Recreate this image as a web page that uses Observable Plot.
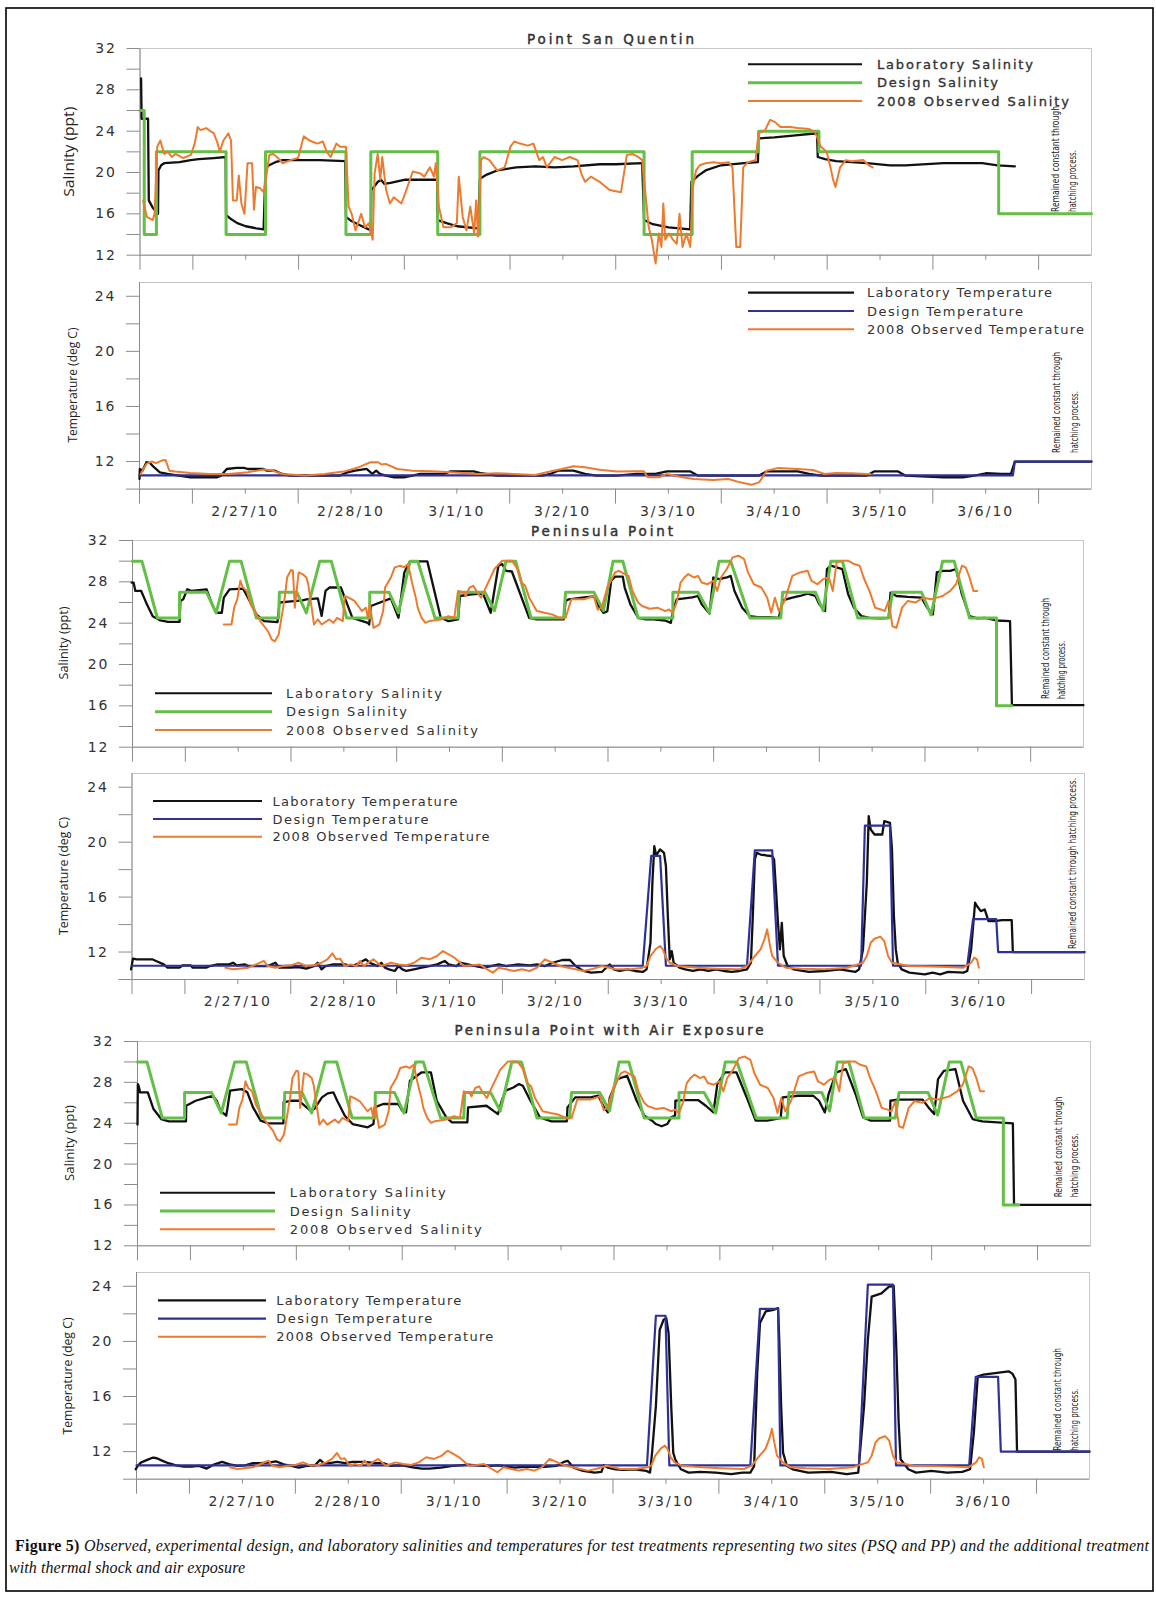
<!DOCTYPE html>
<html><head><meta charset="utf-8">
<script src="https://cdn.jsdelivr.net/npm/d3@7"></script>
<script src="https://cdn.jsdelivr.net/npm/@observablehq/plot@0.6"></script>
<style>
html,body{margin:0;padding:0;background:#fff;}
#page{position:relative;width:1156px;height:1598px;overflow:hidden;background:#fff;}
#page svg{position:absolute;left:0;overflow:visible;}
</style></head><body><div id="page"></div>
<script>
// ---------- axis labels ----------
const dateLabels = ["2/27/10","2/28/10","3/1/10","3/2/10","3/3/10","3/4/10","3/5/10","3/6/10"];
const dayTicks = [-0.5,0,1,2,3,4,5,6,7,8];
const midDayTicks = [0.5,1.5,2.5,3.5,4.5,5.5,6.5,7.5];
const salTicks = [12,16,20,24,28,32];
const salMinor = [14,18,22,26,30];
const tempTicks = [12,16,20,24];
const tempMinor = [10,14,18,22];

// ---------- Point San Quentin : salinity (day since 2/27/10 0:00, ppt) ----------
const psqSalLab = [[-0.49,29.1],[-0.485,25.2],[-0.424,25.2],[-0.417,17.3],[-0.38,16.6],[-0.33,16.0],[-0.326,20.2],[-0.30,20.7],[-0.272,20.9],[-0.127,21.0],[-0.02,21.2],[0.054,21.3],[0.198,21.4],[0.31,21.5],[0.314,15.9],[0.36,15.5],[0.42,15.1],[0.5,14.8],[0.6,14.6],[0.669,14.5],[0.687,20.4],[0.72,20.7],[0.78,21.0],[0.85,21.2],[1.031,21.2],[1.2,21.2],[1.44,21.1],[1.448,15.7],[1.5,15.3],[1.58,14.9],[1.683,14.4],[1.688,18.3],[1.72,18.7],[1.75,19.1],[1.78,19.3],[1.81,18.9],[1.87,19.0],[2.009,19.3],[2.15,19.3],[2.31,19.3],[2.316,15.4],[2.4,15.1],[2.5,14.8],[2.697,14.6],[2.715,19.4],[2.78,19.8],[2.878,20.2],[3.059,20.5],[3.24,20.6],[3.421,20.5],[3.602,20.6],[3.848,20.8],[4.0,20.8],[4.25,20.9],[4.268,15.4],[4.35,15.0],[4.5,14.7],[4.704,14.5],[4.715,19.1],[4.78,19.7],[4.85,20.2],[4.995,20.7],[5.213,20.9],[5.345,21.0],[5.351,23.3],[5.5,23.4],[5.7,23.6],[5.904,23.8],[5.911,21.5],[5.98,21.3],[6.085,21.1],[6.376,20.9],[6.594,20.7],[6.739,20.7],[7.103,20.9],[7.284,20.9],[7.466,20.9],[7.612,20.7],[7.775,20.6]];
const psqSalDesign = [[-0.5,26],[-0.46,26],[-0.46,14],[-0.345,14],[-0.345,22],[0.314,22],[0.314,14],[0.687,14],[0.687,22],[1.448,22],[1.448,14],[1.683,14],[1.683,22],[2.316,22],[2.316,14],[2.715,14],[2.715,22],[4.268,22],[4.268,14],[4.723,14],[4.723,22],[5.351,22],[5.351,24],[5.922,24],[5.922,22],[7.622,22],[7.622,16],[8.5,16]];
const psqSalObs = [[-0.47,17.3],[-0.435,15.7],[-0.38,15.4],[-0.362,16.0],[-0.337,22.5],[-0.308,23.1],[-0.272,21.8],[-0.236,22.0],[-0.2,21.5],[-0.164,21.8],[-0.091,21.4],[-0.019,21.7],[0.017,22.8],[0.046,24.4],[0.072,24.1],[0.126,24.3],[0.18,23.9],[0.198,23.8],[0.235,22.8],[0.253,22.0],[0.289,23.1],[0.336,23.8],[0.361,23.1],[0.379,17.3],[0.415,17.3],[0.434,19.7],[0.459,17.0],[0.488,16.0],[0.517,20.9],[0.56,20.9],[0.578,16.4],[0.596,18.6],[0.633,18.5],[0.669,18.1],[0.687,19.1],[0.723,21.7],[0.759,21.8],[0.796,21.5],[0.85,20.9],[0.922,21.2],[0.995,21.4],[1.049,23.5],[1.103,23.1],[1.176,22.8],[1.23,23.0],[1.266,22.0],[1.303,21.5],[1.357,22.8],[1.393,22.5],[1.448,22.5],[1.473,16.7],[1.502,16.0],[1.538,14.4],[1.592,16.0],[1.628,14.7],[1.665,15.1],[1.701,13.5],[1.719,19.9],[1.748,21.8],[1.773,19.3],[1.791,21.5],[1.828,18.3],[1.864,17.0],[1.9,17.6],[1.972,17.0],[2.009,18.0],[2.08,20.1],[2.153,19.9],[2.189,19.6],[2.243,20.5],[2.28,19.6],[2.298,20.9],[2.327,16.7],[2.37,14.7],[2.443,14.7],[2.497,15.1],[2.515,19.6],[2.552,15.7],[2.588,14.4],[2.624,16.7],[2.661,14.1],[2.679,17.3],[2.697,13.8],[2.726,21.2],[2.751,21.5],[2.805,21.2],[2.878,20.2],[2.95,20.5],[3.004,22.5],[3.04,23.0],[3.095,22.8],[3.167,22.6],[3.221,22.8],[3.276,21.2],[3.312,21.5],[3.348,20.5],[3.421,21.5],[3.493,21.2],[3.565,21.5],[3.638,21.2],[3.674,19.9],[3.71,19.1],[3.765,19.6],[3.848,19.1],[3.941,18.3],[4.05,18.1],[4.105,21.7],[4.159,21.8],[4.214,21.5],[4.25,21.2],[4.287,17.3],[4.312,14.7],[4.341,13.5],[4.377,11.2],[4.407,14.1],[4.432,12.8],[4.45,17.0],[4.468,13.5],[4.505,14.1],[4.541,13.5],[4.577,13.1],[4.603,16.0],[4.632,12.8],[4.668,14.1],[4.705,12.8],[4.73,18.6],[4.759,20.2],[4.795,20.7],[4.85,20.9],[4.923,21.0],[4.995,20.9],[5.068,21.0],[5.104,20.5],[5.14,12.8],[5.177,12.8],[5.206,20.5],[5.25,21.0],[5.322,21.2],[5.351,23.8],[5.413,24.1],[5.46,25.1],[5.504,24.9],[5.558,24.4],[5.649,24.4],[5.722,24.3],[5.831,24.2],[5.885,23.9],[5.94,22.5],[5.995,22.0],[6.031,20.5],[6.056,19.3],[6.078,18.6],[6.122,20.5],[6.176,21.2],[6.231,21.1],[6.34,21.2],[6.394,20.7],[6.43,20.5]];

// ---------- Point San Quentin : temperature (deg C) ----------
const psqTempLab = [[-0.5,10.73],[-0.497,11.46],[-0.471,11.34],[-0.435,11.95],[-0.399,11.88],[-0.363,11.59],[-0.308,11.22],[-0.236,11.1],[-0.127,10.98],[-0.019,10.86],[0.235,10.86],[0.271,10.98],[0.325,11.46],[0.416,11.54],[0.488,11.54],[0.524,11.46],[0.669,11.46],[0.705,11.34],[0.777,11.34],[0.85,11.1],[0.922,10.98],[1.393,10.98],[1.466,11.22],[1.538,11.34],[1.647,11.46],[1.701,11.1],[1.737,11.34],[1.773,11.1],[1.828,10.98],[1.9,10.86],[2.009,10.86],[2.081,10.98],[2.153,11.1],[2.371,11.1],[2.443,11.29],[2.66,11.29],[2.733,11.15],[2.878,10.98],[3.312,10.98],[3.384,11.1],[3.457,11.34],[3.602,11.34],[3.711,11.1],[3.819,10.98],[4.014,10.98],[4.196,11.1],[4.377,11.1],[4.486,11.29],[4.704,11.29],[4.777,10.98],[5.358,10.98],[5.431,11.29],[5.722,11.29],[5.831,11.1],[5.94,10.98],[6.376,10.98],[6.449,11.29],[6.667,11.29],[6.739,10.98],[7.103,10.86],[7.284,10.86],[7.393,10.98],[7.502,11.15],[7.648,11.1],[7.739,11.1],[7.775,12.0],[8.5,12.0]];
const psqTempDesign = [[-0.5,11],[7.757,11],[7.775,12],[8.5,12]];
const psqTempObs = [[-0.489,11.1],[-0.435,11.83],[-0.381,12.0],[-0.345,11.88],[-0.291,12.07],[-0.254,12.12],[-0.218,11.34],[-0.164,11.27],[-0.019,11.17],[0.162,11.1],[0.343,11.1],[0.524,11.22],[0.669,11.42],[0.741,11.39],[0.85,11.1],[1.067,10.98],[1.248,11.1],[1.429,11.27],[1.574,11.59],[1.683,11.95],[1.756,11.95],[1.792,11.78],[1.828,11.83],[1.937,11.46],[2.081,11.34],[2.262,11.29],[2.443,11.22],[2.697,11.1],[2.878,11.15],[3.24,11.03],[3.348,11.22],[3.493,11.46],[3.602,11.66],[3.711,11.59],[3.848,11.4],[4.014,11.27],[4.196,11.29],[4.268,11.29],[4.305,10.86],[4.414,10.86],[4.486,11.1],[4.632,10.86],[4.741,10.73],[4.922,10.66],[5.068,10.73],[5.177,10.49],[5.286,10.32],[5.358,10.49],[5.431,11.34],[5.54,11.54],[5.722,11.46],[5.867,11.39],[5.976,11.1],[6.085,11.17],[6.231,11.15],[6.376,11.1],[6.412,11.1]];

// ---------- Peninsula Point : salinity ----------
const ppSalDesign = [[-0.5,30],[-0.411,30],[-0.265,24.5],[-0.055,24.5],[-0.055,27],[0.2,27],[0.291,25],[0.418,30],[0.527,30],[0.672,24.5],[0.883,24.5],[0.89,27],[1.054,27],[1.145,25],[1.272,30],[1.381,30],[1.527,24.5],[1.745,24.5],[1.745,27],[1.927,27],[2.017,25],[2.127,30],[2.199,30],[2.363,24.5],[2.581,24.5],[2.59,27],[2.835,27],[2.926,25.2],[3.035,30],[3.126,30],[3.272,24.5],[3.58,24.5],[3.599,27],[3.866,27],[3.957,25.2],[4.048,30],[4.14,30],[4.285,24.5],[4.614,24.5],[4.614,27],[4.851,27],[4.96,25],[5.051,30],[5.161,30],[5.343,24.5],[5.635,24.5],[5.653,27],[5.963,27],[6.036,25.2],[6.109,30],[6.218,30],[6.364,24.5],[6.656,24.5],[6.692,27],[6.966,27],[7.057,24.8],[7.167,30],[7.276,30],[7.422,24.5],[7.677,24.5],[7.677,16],[7.823,16]];
const ppSalLab = [[-0.509,27.93],[-0.49,27.93],[-0.473,27.12],[-0.418,27.12],[-0.364,25.82],[-0.309,24.68],[-0.236,24.26],[-0.164,24.13],[-0.055,24.13],[-0.047,26.15],[-0.02,26.31],[0.018,27.28],[0.055,27.12],[0.2,27.28],[0.254,25.82],[0.291,25.01],[0.345,25.01],[0.364,26.47],[0.418,27.28],[0.545,27.35],[0.6,26.31],[0.672,24.85],[0.745,24.2],[0.872,24.1],[0.891,26.0],[1.0,26.1],[1.109,26.2],[1.145,26.3],[1.254,26.4],[1.29,24.7],[1.327,27.12],[1.363,27.45],[1.472,27.45],[1.581,24.52],[1.727,24.03],[1.74,23.87],[1.756,25.66],[1.945,26.4],[2.017,24.52],[2.072,28.9],[2.127,29.98],[2.29,29.98],[2.417,24.52],[2.49,24.2],[2.581,24.36],[2.599,26.63],[2.708,26.8],[2.817,26.86],[2.89,25.01],[2.963,29.56],[2.999,29.72],[3.035,29.07],[3.09,29.0],[3.254,24.52],[3.326,24.36],[3.581,24.36],[3.599,26.15],[3.629,26.31],[3.702,26.4],[3.775,26.5],[3.866,26.6],[3.902,25.8],[3.957,25.0],[3.994,25.17],[4.03,28.1],[4.067,28.5],[4.14,28.5],[4.158,27.45],[4.212,25.82],[4.285,24.52],[4.358,24.36],[4.431,24.36],[4.541,24.26],[4.595,24.03],[4.614,25.17],[4.65,26.31],[4.723,26.4],[4.796,26.5],[4.851,26.63],[4.887,25.82],[4.96,24.93],[4.997,28.42],[5.051,28.26],[5.124,28.42],[5.161,28.58],[5.197,27.12],[5.27,25.5],[5.343,24.68],[5.416,24.58],[5.525,24.58],[5.617,24.52],[5.653,26.2],[5.744,26.47],[5.817,26.63],[5.89,26.86],[5.963,26.63],[6.0,25.82],[6.054,25.17],[6.072,29.24],[6.109,29.56],[6.164,29.4],[6.218,29.24],[6.273,26.8],[6.328,25.5],[6.4,24.68],[6.474,24.52],[6.583,24.46],[6.656,24.52],[6.674,26.96],[6.729,26.63],[6.838,26.54],[6.966,26.47],[7.021,25.5],[7.075,24.85],[7.112,28.91],[7.167,29.07],[7.24,29.07],[7.294,29.24],[7.349,26.8],[7.422,24.68],[7.495,24.46],[7.568,24.52],[7.677,24.26],[7.805,24.2],[7.823,16.07],[8.5,16.07]];
const ppSalObs = [[0.364,23.87],[0.436,23.87],[0.462,25.5],[0.491,26.31],[0.52,28.1],[0.545,27.45],[0.582,27.12],[0.618,25.82],[0.654,25.17],[0.709,24.2],[0.782,23.22],[0.818,22.41],[0.847,22.24],[0.883,22.89],[0.92,25.17],[0.945,26.8],[0.963,28.42],[1.0,29.14],[1.018,29.07],[1.036,25.5],[1.072,28.91],[1.109,28.75],[1.145,28.42],[1.163,27.77],[1.2,25.17],[1.218,23.87],[1.254,24.36],[1.29,23.87],[1.363,24.36],[1.4,24.03],[1.436,24.52],[1.49,24.2],[1.509,26.63],[1.545,26.47],[1.6,26.15],[1.636,25.66],[1.672,25.17],[1.708,25.5],[1.727,24.52],[1.745,25.82],[1.781,23.54],[1.836,23.87],[1.872,25.17],[1.89,27.45],[1.945,28.42],[1.981,29.4],[2.036,29.56],[2.072,29.4],[2.108,29.72],[2.145,27.93],[2.181,26.47],[2.199,25.5],[2.236,24.52],[2.272,24.03],[2.308,24.2],[2.417,24.36],[2.49,24.68],[2.545,24.52],[2.581,27.12],[2.635,26.96],[2.654,26.63],[2.69,27.45],[2.726,27.61],[2.763,26.96],[2.799,26.47],[2.926,29.24],[2.999,30.05],[3.09,30.05],[3.144,29.24],[3.181,27.93],[3.217,27.61],[3.254,26.47],[3.326,25.17],[3.399,25.0],[3.471,24.85],[3.544,24.52],[3.599,24.52],[3.653,26.31],[3.702,26.31],[3.775,26.31],[3.866,26.63],[3.902,25.3],[3.939,25.5],[3.994,27.45],[4.067,28.91],[4.103,29.07],[4.158,28.75],[4.194,28.58],[4.231,27.12],[4.285,26.0],[4.322,25.66],[4.395,25.4],[4.468,25.5],[4.541,25.17],[4.577,25.33],[4.614,25.0],[4.65,26.0],[4.687,27.93],[4.723,28.42],[4.759,28.75],[4.814,28.42],[4.851,28.58],[4.887,27.93],[4.942,27.77],[4.997,28.1],[5.033,27.12],[5.069,28.42],[5.124,29.24],[5.179,30.37],[5.234,30.53],[5.288,30.2],[5.325,28.91],[5.38,27.77],[5.452,27.45],[5.507,26.47],[5.544,25.0],[5.58,26.47],[5.617,25.17],[5.671,26.15],[5.744,28.58],[5.817,28.91],[5.89,29.07],[5.926,28.1],[5.981,27.77],[6.036,28.26],[6.091,28.42],[6.127,27.12],[6.164,29.89],[6.218,30.05],[6.273,30.05],[6.328,29.72],[6.382,29.56],[6.419,28.42],[6.474,27.12],[6.528,25.5],[6.583,25.33],[6.619,25.17],[6.656,26.15],[6.692,23.7],[6.729,23.54],[6.783,25.5],[6.838,26.15],[6.911,26.0],[6.984,26.47],[7.057,26.31],[7.112,26.47],[7.167,26.63],[7.24,27.12],[7.294,27.77],[7.349,29.56],[7.385,29.4],[7.422,28.42],[7.458,27.12],[7.495,27.12]];

// ---------- Peninsula Point : temperature ----------
const ppTempDesign = [[-0.5,11],[4.326,11],[4.406,19],[4.49,19],[4.545,11],[5.311,11],[5.385,19.4],[5.549,19.4],[5.604,11],[6.389,11],[6.425,21.2],[6.662,21.2],[6.691,11],[7.392,11],[7.447,14.4],[7.666,14.4],[7.684,12],[8.5,12]];
const ppTempLab = [[-0.509,10.74],[-0.491,11.52],[-0.455,11.47],[-0.309,11.47],[-0.273,11.35],[-0.2,11.1],[-0.164,10.86],[-0.055,10.86],[-0.018,11.03],[0.055,11.03],[0.073,10.86],[0.2,10.86],[0.236,10.98],[0.309,11.1],[0.418,11.1],[0.455,11.22],[0.491,11.03],[0.564,11.1],[0.6,10.98],[0.782,10.98],[0.855,11.22],[0.891,10.86],[1.0,10.86],[1.073,10.91],[1.146,10.79],[1.219,10.98],[1.255,11.22],[1.291,10.74],[1.328,10.98],[1.4,11.1],[1.51,11.1],[1.582,10.98],[1.619,11.1],[1.71,11.47],[1.746,11.22],[1.782,11.1],[1.819,10.98],[1.855,11.22],[1.892,10.86],[1.928,10.74],[1.983,10.62],[2.019,10.98],[2.055,10.74],[2.092,10.62],[2.164,10.74],[2.237,10.86],[2.31,10.98],[2.383,11.1],[2.455,11.35],[2.492,11.1],[2.565,10.98],[2.601,11.22],[2.674,11.1],[2.746,10.98],[2.819,10.86],[2.892,10.98],[2.965,11.1],[3.037,10.98],[3.147,11.1],[3.256,11.03],[3.328,11.1],[3.401,10.98],[3.474,11.22],[3.565,11.42],[3.638,11.42],[3.692,10.98],[3.765,10.62],[3.838,10.5],[3.94,10.55],[3.997,10.98],[4.015,11.1],[4.052,10.74],[4.107,10.62],[4.18,10.74],[4.253,10.62],[4.326,10.55],[4.362,10.74],[4.399,12.68],[4.417,17.04],[4.435,19.71],[4.453,19.03],[4.49,19.47],[4.508,19.35],[4.527,19.22],[4.545,18.25],[4.563,14.62],[4.581,11.47],[4.6,12.07],[4.618,11.22],[4.636,11.1],[4.673,10.86],[4.727,10.74],[4.8,10.62],[4.873,10.74],[4.946,10.62],[5.019,10.74],[5.092,10.62],[5.165,10.55],[5.238,10.62],[5.311,10.74],[5.348,11.22],[5.366,14.62],[5.385,18.74],[5.403,19.22],[5.439,19.1],[5.494,19.03],[5.549,18.98],[5.567,18.74],[5.585,16.56],[5.604,14.13],[5.622,12.19],[5.64,14.13],[5.658,11.71],[5.695,10.98],[5.75,10.74],[5.896,10.55],[6.042,10.62],[6.188,10.74],[6.334,10.55],[6.37,10.74],[6.407,12.19],[6.443,17.04],[6.461,21.89],[6.48,20.92],[6.516,20.56],[6.589,20.56],[6.608,21.53],[6.662,21.41],[6.681,19.47],[6.699,14.62],[6.717,12.19],[6.735,11.22],[6.772,10.74],[6.845,10.5],[6.991,10.38],[7.064,10.5],[7.137,10.38],[7.21,10.55],[7.356,10.5],[7.392,10.62],[7.429,12.19],[7.466,15.59],[7.484,15.35],[7.52,14.98],[7.557,15.1],[7.593,14.25],[7.648,14.25],[7.721,14.33],[7.812,14.33],[7.823,12.0],[8.5,12.0]];
const ppTempObs = [[0.382,10.86],[0.455,10.74],[0.6,10.86],[0.673,11.1],[0.746,11.35],[0.782,10.98],[0.855,10.86],[0.928,10.98],[1.0,11.03],[1.073,11.22],[1.146,10.98],[1.219,11.03],[1.291,11.22],[1.346,11.47],[1.393,11.9],[1.43,11.47],[1.466,11.52],[1.51,10.98],[1.564,11.1],[1.619,10.98],[1.655,11.35],[1.692,10.98],[1.728,11.22],[1.782,11.47],[1.819,11.22],[1.855,10.98],[1.946,11.22],[2.019,11.1],[2.092,11.03],[2.164,11.22],[2.237,11.59],[2.31,11.47],[2.383,11.71],[2.437,12.07],[2.492,11.83],[2.546,11.59],[2.583,11.35],[2.637,10.98],[2.71,11.03],[2.783,11.1],[2.856,10.74],[2.91,10.5],[2.965,10.86],[3.037,10.74],[3.11,10.62],[3.183,10.74],[3.256,10.62],[3.328,10.86],[3.401,11.47],[3.474,11.22],[3.547,10.98],[3.619,10.86],[3.692,10.74],[3.765,10.62],[3.838,10.74],[3.94,10.98],[4.07,10.74],[4.216,10.74],[4.326,10.86],[4.362,10.98],[4.399,11.71],[4.453,12.24],[4.49,12.44],[4.516,12.19],[4.545,11.59],[4.581,11.22],[4.654,10.98],[4.837,10.86],[5.019,10.79],[5.238,10.74],[5.311,10.98],[5.385,11.71],[5.439,12.19],[5.476,12.92],[5.501,13.65],[5.523,12.68],[5.549,11.71],[5.604,11.22],[5.676,10.86],[5.823,10.79],[6.042,10.74],[6.261,10.86],[6.407,11.22],[6.443,11.71],[6.48,12.68],[6.516,12.97],[6.571,13.12],[6.608,12.8],[6.644,11.71],[6.681,11.22],[6.845,10.98],[7.137,10.93],[7.356,10.86],[7.429,11.22],[7.458,11.59],[7.484,11.47],[7.502,10.86]];

// ---------- Peninsula Point with Air Exposure ----------
const ppAirSalLab = [[-0.5,23.86],[-0.497,27.83],[-0.49,27.67],[-0.475,27.02],[-0.403,27.02],[-0.349,25.39],[-0.276,24.41],[-0.204,24.18],[-0.042,24.18],[-0.04,25.71],[0.049,26.2],[0.157,26.53],[0.211,26.69],[0.248,26.2],[0.284,25.22],[0.338,24.74],[0.35,25.5],[0.374,27.18],[0.482,27.34],[0.537,27.02],[0.591,25.55],[0.663,24.25],[0.735,23.99],[0.878,23.99],[0.88,26.04],[0.952,26.2],[1.025,26.2],[1.061,25.88],[1.133,25.22],[1.169,25.39],[1.242,26.53],[1.296,26.92],[1.35,27.02],[1.386,26.2],[1.458,24.74],[1.531,23.92],[1.675,23.6],[1.729,23.92],[1.74,25.55],[1.82,25.88],[1.964,25.88],[2.0,25.22],[2.036,25.06],[2.073,28.16],[2.181,28.97],[2.271,28.97],[2.326,26.2],[2.416,24.57],[2.47,24.08],[2.615,24.08],[2.622,25.55],[2.796,25.71],[2.868,25.16],[2.904,24.9],[2.94,26.2],[2.976,27.18],[3.049,27.5],[3.103,27.83],[3.139,27.67],[3.211,26.2],[3.301,24.57],[3.409,24.18],[3.554,24.18],[3.561,25.55],[3.634,26.53],[3.779,26.53],[3.852,26.69],[3.906,25.55],[3.942,25.06],[3.96,26.5],[4.033,28.32],[4.124,28.65],[4.214,26.2],[4.287,24.74],[4.359,24.25],[4.395,23.92],[4.45,23.7],[4.504,23.92],[4.54,24.57],[4.577,24.74],[4.58,26.2],[4.649,26.27],[4.794,26.27],[4.867,25.71],[4.939,25.06],[4.976,27.83],[5.048,28.97],[5.157,28.97],[5.266,26.2],[5.338,24.25],[5.447,24.25],[5.574,24.51],[5.592,26.53],[5.737,26.69],[5.882,26.69],[5.936,26.2],[5.991,25.06],[6.027,26.86],[6.1,28.97],[6.19,29.3],[6.281,26.86],[6.353,24.57],[6.426,24.25],[6.607,24.25],[6.61,26.2],[6.68,26.3],[6.915,26.3],[6.97,25.55],[7.024,24.9],[7.06,28.32],[7.115,29.13],[7.224,29.3],[7.296,26.2],[7.387,24.41],[7.477,24.18],[7.622,24.08],[7.767,23.99],[7.778,16.0],[8.5,16.0]];
const ppAirTempDesign = [[-0.5,11],[4.321,11],[4.405,21.86],[4.496,21.86],[4.532,11],[5.297,11],[5.388,22.36],[5.559,22.36],[5.581,11],[6.323,11],[6.407,24.12],[6.644,24.12],[6.673,11],[7.364,11],[7.426,17.42],[7.637,17.42],[7.663,12],[8.5,12]];
const ppAirTempLab = [[-0.508,10.72],[-0.489,10.96],[-0.46,11.2],[-0.399,11.4],[-0.344,11.57],[-0.308,11.52],[-0.254,11.33],[-0.199,11.16],[-0.127,11.01],[-0.054,10.92],[0.018,10.92],[0.091,10.96],[0.163,10.77],[0.236,11.08],[0.308,11.25],[0.381,11.08],[0.454,10.96],[0.526,11.01],[0.599,11.16],[0.671,11.16],[0.744,11.2],[0.816,11.3],[0.889,11.08],[0.961,10.96],[1.034,10.84],[1.106,10.96],[1.179,10.96],[1.233,11.4],[1.269,11.16],[1.324,11.16],[1.396,11.25],[1.469,11.16],[1.541,11.25],[1.65,11.25],[1.759,11.16],[1.832,11.16],[1.904,10.96],[2.013,11.01],[2.122,10.84],[2.194,10.77],[2.267,10.77],[2.376,10.84],[2.484,10.96],[2.557,11.01],[2.629,11.06],[2.774,10.96],[2.847,10.96],[2.919,11.01],[3.065,10.84],[3.21,10.92],[3.355,10.89],[3.464,10.96],[3.536,11.25],[3.572,11.33],[3.627,10.84],[3.717,10.6],[3.826,10.48],[3.891,10.53],[3.913,11.01],[3.95,10.84],[4.023,10.72],[4.095,10.67],[4.205,10.72],[4.314,10.6],[4.35,10.48],[4.369,11.93],[4.405,15.3],[4.441,20.84],[4.478,21.57],[4.503,21.69],[4.525,20.6],[4.55,15.3],[4.569,11.93],[4.587,11.45],[4.641,10.72],[4.714,10.48],[4.824,10.53],[4.969,10.48],[5.115,10.36],[5.224,10.48],[5.297,10.48],[5.333,10.96],[5.362,17.71],[5.388,21.33],[5.442,22.17],[5.515,22.29],[5.559,22.41],[5.57,20.12],[5.588,15.3],[5.606,11.93],[5.643,10.96],[5.697,10.72],[5.843,10.48],[6.061,10.53],[6.207,10.36],[6.316,10.48],[6.371,15.3],[6.407,20.12],[6.443,23.25],[6.535,23.49],[6.607,23.98],[6.651,24.02],[6.673,20.12],[6.698,14.1],[6.716,11.45],[6.789,10.72],[6.862,10.48],[7.008,10.6],[7.153,10.48],[7.299,10.53],[7.372,10.72],[7.408,13.37],[7.445,17.47],[7.499,17.59],[7.627,17.71],[7.736,17.83],[7.772,17.66],[7.801,17.23],[7.816,12.0],[8.5,12.0]];

// ---------- text ----------
const titles = ["Point San Quentin","Peninsula Point","Peninsula Point with Air Exposure"];
const salLegend = ["Laboratory Salinity","Design Salinity","2008 Observed Salinity"];
const tempLegend = ["Laboratory Temperature","Design Temperature","2008 Observed Temperature"];
const noteLines = ["Remained constant through","hatching process."];
const noteOneLine = "Remained constant through hatching process.";
const captionBold = "Figure 5)";
const captionRest = " Observed, experimental design, and laboratory salinities and temperatures for test treatments representing two sites (PSQ and PP) and the additional treatment";
const captionLine2 = "with thermal shock and air exposure";

// ---------- styles ----------
const C = {lab:"#111111", dsal:"#63bf45", obs:"#ec7b30", dtemp:"#2e3196", axis:"#8c8c8c", frame:"#c6c6c6", text:"#333333"};
const W = {lab:2.3, dsal:3, obs:2, dtemp:2.2};

const page = document.getElementById("page");

function panel(p) {
  const svgTop = p.top - 14;
  const svgBottom = p.bottom + (p.labels ? 36 : 20);
  const plot = Plot.plot({
    width: 1156,
    height: svgBottom - svgTop,
    marginTop: p.top - svgTop,
    marginBottom: svgBottom - p.bottom,
    marginLeft: p.left,
    marginRight: 1156 - p.right,
    x: {domain: [-0.5, 8.5]},
    y: {domain: p.y},
    style: {fontFamily: "DejaVu Sans, Verdana, sans-serif", fontSize: "14px", letterSpacing: "2px", color: C.text, background: "transparent", overflow: "visible"},
    marks: [
      Plot.frame({stroke: C.frame}),
      Plot.axisY(p.major, {tickSize: 13, tickPadding: 10, stroke: C.axis, fill: C.text, label: null}),
      Plot.axisY(p.minor, {tickSize: 13, tickFormat: () => "", stroke: C.axis, label: null}),
      Plot.axisX(dayTicks, {tickSize: 15, tickFormat: () => "", stroke: C.axis, label: null}),
      Plot.axisX(midDayTicks, {tickSize: 5, tickPadding: 12, tickFormat: d => p.labels ? dateLabels[Math.floor(d)] : "", stroke: C.axis, fill: C.text, label: null}),
      Plot.ruleX([-0.5], {stroke: C.axis}),
      Plot.ruleY([p.y[0]], {stroke: C.axis}),
      ...p.series.map(s => Plot.line(s.data, {x: d => d[0], y: d => d[1], stroke: s.color, strokeWidth: s.width, strokeLinejoin: "round"}))
    ]
  });
  plot.style.top = svgTop + "px";
  page.appendChild(plot);
}

const salSeries = (lab, des, obs) => [
  {data: lab, color: C.lab, width: W.lab},
  {data: des, color: C.dsal, width: W.dsal},
  {data: obs, color: C.obs, width: W.obs}];
const tempSeries = (lab, des, obs) => [
  {data: lab, color: C.lab, width: W.lab},
  {data: des, color: C.dtemp, width: W.dtemp},
  {data: obs, color: C.obs, width: W.obs}];

panel({top: 48.3, bottom: 255, left: 139.5, right: 1091, y: [12,32], major: salTicks, minor: salMinor, labels: false, series: salSeries(psqSalLab, psqSalDesign, psqSalObs)});
panel({top: 281.7, bottom: 488.3, left: 139, right: 1091, y: [10,25], major: tempTicks, minor: tempMinor, labels: true, series: tempSeries(psqTempLab, psqTempDesign, psqTempObs)});
panel({top: 540, bottom: 746.7, left: 132, right: 1083, y: [12,32], major: salTicks, minor: salMinor, labels: false, series: salSeries(ppSalLab, ppSalDesign, ppSalObs)});
panel({top: 773.3, bottom: 979.3, left: 131.5, right: 1084, y: [10,25], major: tempTicks, minor: tempMinor, labels: true, series: tempSeries(ppTempLab, ppTempDesign, ppTempObs)});
panel({top: 1040.7, bottom: 1245, left: 137, right: 1090, y: [12,32], major: salTicks, minor: salMinor, labels: false, series: salSeries(ppAirSalLab, ppSalDesign, ppSalObs)});
panel({top: 1272.3, bottom: 1479, left: 136, right: 1089, y: [10,25], major: tempTicks, minor: tempMinor, labels: true, series: tempSeries(ppAirTempLab, ppAirTempDesign, ppTempObs)});

// ---------- overlay: border, titles, legends, notes, axis titles, caption ----------
const ov = d3.create("svg").attr("width", 1156).attr("height", 1598).style("top", "0px").style("pointer-events", "none");
ov.append("rect").attr("x", 6).attr("y", 8).attr("width", 1147).attr("height", 1583).attr("fill", "none").attr("stroke", "#000").attr("stroke-width", 1.6);

function label(s, x, y, o = {}) {
  const t = ov.append("text").attr("x", x).attr("y", y).text(s)
    .attr("font-family", o.family || "DejaVu Sans, Verdana, sans-serif")
    .attr("font-size", o.size || 13)
    .attr("fill", o.fill || C.text)
    .attr("text-anchor", o.anchor || "start")
    .attr("dy", o.dy ?? "0.36em");
  if (o.len) t.attr("textLength", o.len).attr("lengthAdjust", o.adjust || "spacing");
  if (o.weight) t.attr("font-weight", o.weight);
  if (o.rotate) t.attr("transform", `rotate(-90 ${x} ${y})`);
  if (o.stroke) t.attr("stroke", o.fill || C.text).attr("stroke-width", o.stroke);
  return t;
}

// titles
label(titles[0], 610.5, 39, {anchor: "middle", len: 167, size: 13.5, stroke: 0.45});
label(titles[1], 602, 531, {anchor: "middle", len: 142, size: 13.5, stroke: 0.45});
label(titles[2], 609, 1030, {anchor: "middle", len: 309, size: 13.5, stroke: 0.45});

// legends
function legend(x1, x2, tx, rows, names, colors, widths, lens, o = {}) {
  rows.forEach((y, i) => {
    ov.append("line").attr("x1", x1).attr("x2", x2).attr("y1", y).attr("y2", y).attr("stroke", colors[i]).attr("stroke-width", widths[i]);
    label(names[i], tx, y, {len: lens[i], size: 13, stroke: o.stroke});
  });
}
const salCols = [C.lab, C.dsal, C.obs], salW = [2, 3, 2];
const tempCols = [C.lab, C.dtemp, C.obs], tempW = [2.2, 2.2, 2];
const salLens = [156, 121, 192], tempLens = [185, 156, 217];
legend(748, 862, 877, [64.3, 82.7, 101], salLegend, salCols, salW, salLens, {stroke: 0.35});
legend(748, 854, 867, [292.7, 311, 329.3], tempLegend, tempCols, tempW, tempLens);
legend(155, 272, 286, [693.3, 711.7, 730], salLegend, salCols, salW, salLens);
legend(153, 262, 272.5, [801, 819, 836.7], tempLegend, tempCols, tempW, tempLens);
legend(160, 275, 289.7, [1192.7, 1211, 1229.3], salLegend, salCols, salW, salLens);
legend(158, 266, 276.3, [1300.3, 1318.7, 1336.7], tempLegend, tempCols, tempW, tempLens);

// rotated notes
const noteFont = {family: "Liberation Sans Narrow, DejaVu Sans Condensed, Arial Narrow, sans-serif", size: 10.5, rotate: true, adjust: "spacingAndGlyphs", fill: "#222"};
function note(xa, xb, yBottom, len1, len2) {
  label(noteLines[0], xa, yBottom, {...noteFont, len: len1, dy: "0.35em"}).attr("transform", `rotate(-90 ${xa} ${yBottom})`);
  label(noteLines[1], xb, yBottom, {...noteFont, len: len2, dy: "0.35em"}).attr("transform", `rotate(-90 ${xb} ${yBottom})`);
}
note(1055, 1072.7, 212, 106, 62);
note(1056.5, 1074.6, 453, 101, 62);
note(1045.8, 1061, 699, 101, 58);
label(noteOneLine, 1072, 949, {...noteFont, len: 171});
note(1058, 1074.6, 1197.3, 100.6, 64);
note(1057, 1074.6, 1450.7, 102.7, 62);

// y-axis titles
const yt = {family: "Open Sans, Noto Sans, sans-serif", rotate: true, anchor: "middle", fill: "#222", adjust: "spacingAndGlyphs"};
label("Salinity (ppt)", 69, 151.7, {...yt, size: 15, len: 90});
label("Temperature (deg C)", 72.7, 385, {...yt, size: 13, len: 115});
label("Salinity (ppt)", 63, 643, {...yt, size: 13, len: 73});
label("Temperature (deg C)", 63, 876, {...yt, size: 13, len: 118});
label("Salinity (ppt)", 69, 1143, {...yt, size: 13, len: 76});
label("Temperature (deg C)", 67, 1376, {...yt, size: 13, len: 117});

// caption
const cap = ov.append("text").attr("x", 15).attr("y", 1551).attr("font-family", "Liberation Serif, Times New Roman, serif").attr("font-size", 16).attr("fill", "#111")
  .attr("textLength", 1134).attr("lengthAdjust", "spacing");
cap.append("tspan").attr("font-weight", "bold").text(captionBold);
cap.append("tspan").attr("font-style", "italic").text(captionRest);
ov.append("text").attr("x", 9).attr("y", 1573).attr("font-family", "Liberation Serif, Times New Roman, serif").attr("font-size", 16).attr("font-style", "italic").attr("fill", "#111")
  .attr("textLength", 236).attr("lengthAdjust", "spacing").text(captionLine2);

page.appendChild(ov.node());
</script>
</body></html>
